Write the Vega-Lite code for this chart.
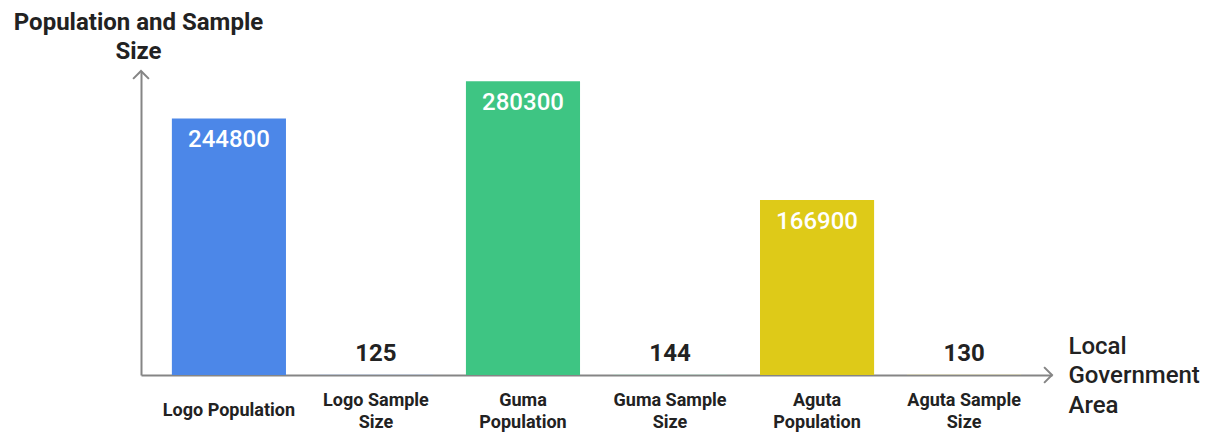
{
  "$schema": "https://vega.github.io/schema/vega-lite/v6.json",
  "width": 911,
  "height": 304,
  "autosize": {"type": "none"},
  "padding": {"left": 141, "top": 71, "right": 161, "bottom": 58},
  "background": "white",
  "config": {"view": {"stroke": null}, "font": "Roboto"},
  "data": {
    "values": [
      {"category": "Logo Population", "value": 244800, "kind": "Population"},
      {"category": "Logo Sample Size", "value": 125, "kind": "Sample"},
      {"category": "Guma Population", "value": 280300, "kind": "Population"},
      {"category": "Guma Sample Size", "value": 144, "kind": "Sample"},
      {"category": "Aguta Population", "value": 166900, "kind": "Population"},
      {"category": "Aguta Sample Size", "value": 130, "kind": "Sample"}
    ]
  },
  "encoding": {
    "x": {
      "field": "category",
      "type": "nominal",
      "sort": null,
      "scale": {"paddingInner": 0.224, "paddingOuter": 0.21},
      "axis": {
        "title": ["Local", "Government", "Area"],
        "titleFont": "Roboto",
        "titleFontSize": 24,
        "titleFontWeight": 500,
        "titleColor": "#222222",
        "titleAlign": "left",
        "titleBaseline": "middle",
        "titleLineHeight": 29.5,
        "titleAnchor": "start",
        "titleAngle": 0,
        "titleX": 927,
        "titleY": -29,
        "ticks": false,
        "grid": false,
        "domain": true,
        "domainColor": "#858585",
        "domainWidth": 2,
        "labelAngle": 0,
        "labelFont": "Roboto",
        "labelFontSize": 18,
        "labelFontWeight": "bold",
        "labelColor": "#222222",
        "labelBaseline": "middle",
        "labelPadding": {"condition": {"test": "datum.value == 'Logo Population'", "value": 35}, "value": 25},
        "labelLineHeight": 22,
        "labelExpr": "datum.value == 'Logo Population' ? 'Logo Population' : (datum.value == 'Guma Population' ? ['Guma', 'Population'] : (datum.value == 'Aguta Population' ? ['Aguta', 'Population'] : [replace(datum.value, ' Size', ''), 'Size']))"
      }
    },
    "y": {
      "field": "value",
      "type": "quantitative",
      "scale": {"domain": [0, 290000], "nice": false},
      "axis": {
        "title": ["Population and Sample", "Size"],
        "titleFont": "Roboto",
        "titleFontSize": 24,
        "titleFontWeight": "bold",
        "titleColor": "#222222",
        "titleAngle": 0,
        "titleAlign": "center",
        "titleBaseline": "middle",
        "titleLineHeight": 29,
        "titleX": -3,
        "titleY": -49,
        "labels": false,
        "ticks": false,
        "grid": false,
        "domain": true,
        "domainColor": "#858585",
        "domainWidth": 2
      }
    }
  },
  "layer": [
    {
      "mark": {"type": "bar"},
      "encoding": {
        "color": {
          "field": "category",
          "type": "nominal",
          "sort": null,
          "scale": {
            "domain": ["Logo Population", "Logo Sample Size", "Guma Population", "Guma Sample Size", "Aguta Population", "Aguta Sample Size"],
            "range": ["#4C87E8", "#9FBEF2", "#3EC583", "#9FE2C1", "#DECA18", "#EEE48B"]
          },
          "legend": null
        }
      }
    },
    {
      "transform": [{"filter": "datum.kind == 'Population'"}],
      "mark": {"type": "text", "baseline": "middle", "dy": 22, "font": "Roboto", "fontSize": 24, "fontWeight": 500, "color": "white"},
      "encoding": {"text": {"field": "value", "type": "nominal"}}
    },
    {
      "transform": [{"filter": "datum.kind == 'Sample'"}],
      "mark": {"type": "text", "baseline": "middle", "dy": -21, "font": "Roboto", "fontSize": 24, "fontWeight": "bold", "color": "#222222"},
      "encoding": {"text": {"field": "value", "type": "nominal"}}
    },
    {
      "data": {"values": [{"axis": "y"}]},
      "mark": {"type": "point", "shape": "M-1,1L0,0L1,1", "size": 250, "filled": false, "stroke": "#858585", "strokeWidth": 2, "opacity": 1},
      "encoding": {"x": {"value": 0}, "y": {"value": 0}}
    },
    {
      "data": {"values": [{"axis": "x"}]},
      "mark": {"type": "point", "shape": "M-1,-1L0,0L-1,1", "size": 250, "filled": false, "stroke": "#858585", "strokeWidth": 2, "opacity": 1},
      "encoding": {"x": {"value": "width"}, "y": {"value": "height"}}
    }
  ]
}
